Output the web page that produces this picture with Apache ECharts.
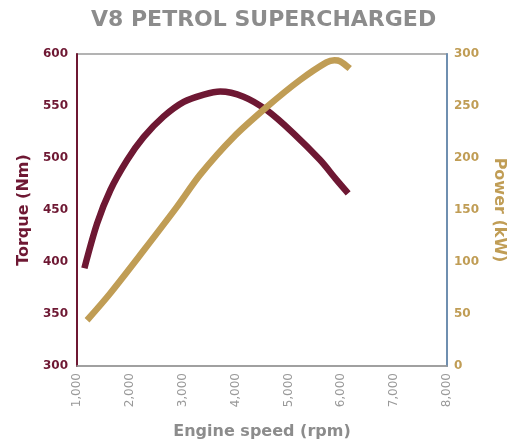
<!DOCTYPE html>
<html><head><meta charset="utf-8">
<script src="https://cdn.jsdelivr.net/npm/echarts@6/dist/echarts.min.js"></script>
<style>html,body{margin:0;padding:0;background:#fff}#c{width:509px;height:444px}</style>
</head><body><div id="c"></div>
<script>
var torqueRpm = [1140, 1380, 1630, 1950, 2260, 2640, 3020, 3400, 3710, 4150, 4590, 5090, 5600, 5910, 6130];
var torqueNm  = [394, 437, 469, 498, 520, 540, 554, 561, 564, 559, 546, 524, 498, 479, 466];
var powerRpm  = [1190, 1630, 2260, 2890, 3330, 3960, 4590, 5220, 5720, 5870, 5980, 6160];
var powerKw   = [44, 70, 111, 153, 184, 220, 249, 275, 292, 294, 293, 286];

var maroon = '#6e1833', gold = '#c09d55', grey = '#8c8c8c';
var ff = 'DejaVu Sans';
function pairs(xs, ys){ return xs.map(function(x,i){return [x, ys[i]];}); }

var chart = echarts.init(document.getElementById('c'));
chart.setOption({
  animation: false,
  title: { text: 'V8 PETROL SUPERCHARGED', left: 86, top: 4,
    textStyle: { color: grey, fontFamily: ff, fontWeight: 'bold', fontSize: 22 } },
  grid: { left: 77, right: 62, top: 54, bottom: 78, show: true, borderColor: '#9a9a9a', borderWidth: 1.5,
    outerBoundsMode: 'none', containLabel: false },
  xAxis: { type: 'value', min: 1000, max: 8000, interval: 1000,
    name: 'Engine speed (rpm)', nameLocation: 'middle', nameGap: 58,
    nameTextStyle: { color: grey, fontFamily: ff, fontWeight: 'bold', fontSize: 16 },
    axisLine: { show: true, lineStyle: { color: '#9a9a9a', width: 1.5 } },
    axisTick: { show: false }, splitLine: { show: false },
    axisLabel: { rotate: 90, color: '#999', fontFamily: ff, fontSize: 12, margin: 7,
      formatter: function(v){ return v.toLocaleString('en-US'); } } },
  yAxis: [
    { type: 'value', min: 300, max: 600, interval: 50, position: 'left',
      name: 'Torque (Nm)', nameLocation: 'middle', nameGap: 45, nameRotate: 90,
      nameTextStyle: { color: maroon, fontFamily: ff, fontWeight: 'bold', fontSize: 16 },
      axisLine: { show: true, lineStyle: { color: maroon, width: 2 } },
      axisTick: { show: false }, splitLine: { show: false },
      axisLabel: { color: maroon, fontFamily: ff, fontWeight: 'bold', fontSize: 12, margin: 9 } },
    { type: 'value', min: 0, max: 300, interval: 50, position: 'right',
      name: 'Power (kW)', nameLocation: 'middle', nameGap: 44, nameRotate: -90,
      nameTextStyle: { color: gold, fontFamily: ff, fontWeight: 'bold', fontSize: 16 },
      axisLine: { show: true, lineStyle: { color: '#6f8fb0', width: 2 } },
      axisTick: { show: false }, splitLine: { show: false },
      axisLabel: { color: gold, fontFamily: ff, fontWeight: 'bold', fontSize: 12, margin: 7 } }
  ],
  series: [
    { type: 'line', yAxisIndex: 0, data: pairs(torqueRpm, torqueNm), smooth: 0.3, showSymbol: false,
      lineStyle: { color: maroon, width: 6.5, cap: 'butt' } },
    { type: 'line', yAxisIndex: 1, data: pairs(powerRpm, powerKw), smooth: 0.3, showSymbol: false,
      lineStyle: { color: gold, width: 6.5, cap: 'butt' } }
  ]
});
</script></body></html>
